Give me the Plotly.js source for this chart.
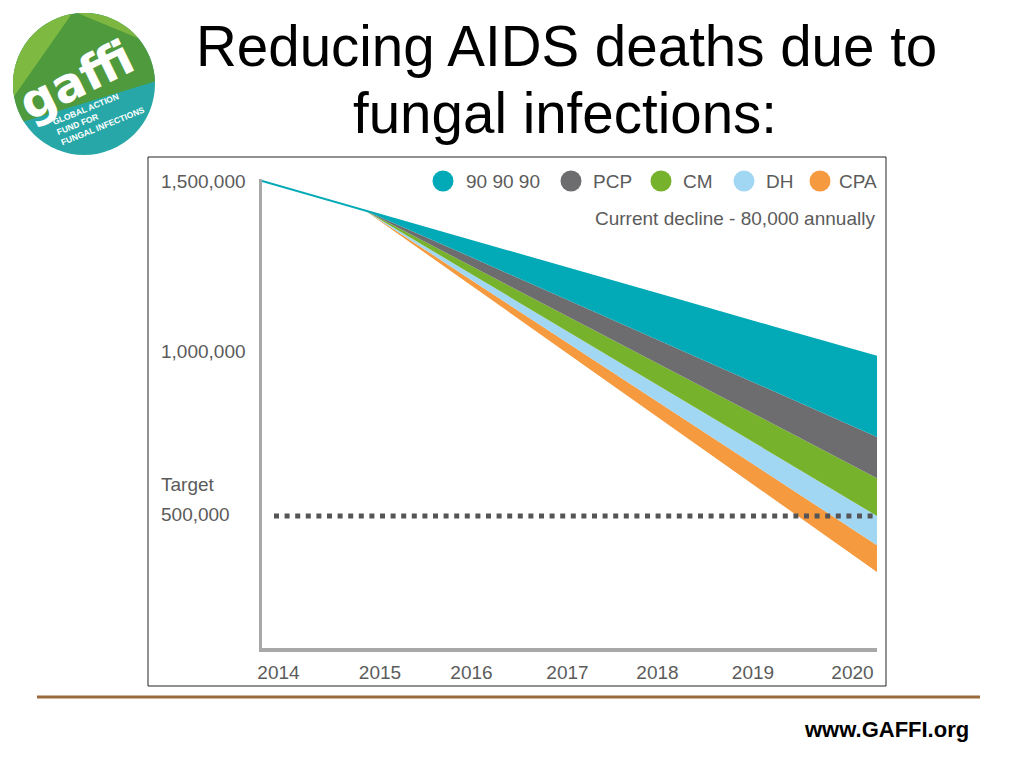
<!DOCTYPE html>
<html>
<head>
<meta charset="utf-8">
<script src="https://cdn.plot.ly/plotly-3.0.1.min.js"></script>
<style>
  html, body { margin: 0; padding: 0; background: #ffffff; }
  #chart { width: 1024px; height: 768px; }
</style>
</head>
<body>
<div id="chart"></div>
<script>
// ---- Data ----
const years = [2014, 2015, 2016, 2017, 2018, 2019, 2020];
// upper boundary of each band (deaths per year)
const ninetyTop = [1500000, 1413000, 1325000, 1237000, 1150000, 1062000, 975000]; // 90 90 90 (current decline line)
const pcpTop    = [1500000, 1413000, 1278000, 1142000, 1007000, 871000, 736000];
const cmTop     = [1500000, 1413000, 1253000, 1093000, 933000, 773000, 613000];
const dhTop     = [1500000, 1413000, 1230000, 1048000, 865000, 683000, 500000];
const cpaTop    = [1500000, 1413000, 1213000, 1013000, 813000, 613000, 413000];
const cpaBottom = [1500000, 1413000, 1197000, 981000, 765000, 549000, 333000];
const target = 500000;
const seriesNames = ['90 90 90', 'PCP', 'CM', 'DH', 'CPA'];
const seriesColors = ['#02a9b7', '#6d6d6f', '#76b22b', '#a2d7f4', '#f59a3e'];
const yTickVals = [1500000, 1000000, 500000];
const yTickText = ['1,500,000', '1,000,000', '500,000'];
const xTickText = ['2014', '2015', '2016', '2017', '2018', '2019', '2020'];

// ---- Layout geometry (pixels) ----
const L = 262, R = 147, T = 179, B = 120;
const PW = 1024 - L - R, PH = 768 - T - B;
const xp = p => (p - L) / PW;
const yp = p => (768 - B - p) / PH;
const yearAt = p => 2014 + (p - L) / PW * 6;

const txt = '#5b5b5b';
const chartFont = 'Liberation Sans, Arial, Helvetica, sans-serif';

function band(yv, name, color, fill) {
  return {
    type: 'scatter', mode: 'lines', x: years, y: yv, name: name,
    line: { width: 0, color: color }, fill: fill ? 'tonexty' : 'none',
    fillcolor: color, hoverinfo: 'skip', showlegend: false
  };
}
const traces = [
  band(cpaBottom, 'CPA base', seriesColors[4], false),
  band(cpaTop, 'CPA', seriesColors[4], true),
  band(dhTop, 'DH', seriesColors[3], true),
  band(cmTop, 'CM', seriesColors[2], true),
  band(pcpTop, 'PCP', seriesColors[1], true),
  Object.assign(band(ninetyTop, '90 90 90', seriesColors[0], true), { line: { width: 2, color: seriesColors[0] } })
];

// ---- Shapes ----
const shapes = [];
// chart frame
shapes.push({ type: 'rect', xref: 'paper', yref: 'paper', x0: xp(148), x1: xp(886), y0: yp(686), y1: yp(157),
  line: { color: '#222', width: 1 }, fillcolor: 'rgba(0,0,0,0)', layer: 'below' });
// target dotted line
shapes.push({ type: 'line', xref: 'paper', yref: 'y', x0: xp(274), x1: xp(878), y0: target, y1: target,
  line: { color: '#555557', width: 5, dash: '5px,5.6px' } });
// legend circles
const legCircleX = [443, 571, 661, 744, 820];
const legTextX = [465, 592, 682, 765, 838];
seriesNames.forEach((n, i) => {
  shapes.push({ type: 'circle', xref: 'paper', yref: 'paper', xsizemode: 'pixel', ysizemode: 'pixel',
    xanchor: xp(legCircleX[i]), yanchor: yp(181), x0: -10.5, x1: 10.5, y0: -10.5, y1: 10.5,
    fillcolor: seriesColors[i], line: { width: 0 } });
});
// bottom brown rule
shapes.push({ type: 'line', xref: 'paper', yref: 'paper', x0: xp(37), x1: xp(980), y0: yp(697), y1: yp(697),
  line: { color: '#9a6a3c', width: 3 } });
// logo
const cx = 84, cy = 84, r = 71;
shapes.push({ type: 'circle', xref: 'paper', yref: 'paper', x0: xp(cx - r), x1: xp(cx + r), y0: yp(cy + r), y1: yp(cy - r),
  fillcolor: '#27a7a7', line: { width: 0 } });
function arcPath(a0, a1, steps) {
  let d = '';
  for (let k = 0; k <= steps; k++) {
    const a = (a0 + (a1 - a0) * k / steps) * Math.PI / 180;
    const px = cx + r * Math.cos(a), py = cy - r * Math.sin(a);
    d += (k === 0 ? 'M ' : ' L ') + xp(px).toFixed(5) + ',' + yp(py).toFixed(5);
  }
  return d + ' Z';
}
shapes.push({ type: 'path', xref: 'paper', yref: 'paper', path: arcPath(2, 212, 70), fillcolor: '#4f9a3c', line: { width: 0 } });
shapes.push({ type: 'path', xref: 'paper', yref: 'paper', path: arcPath(100, 190, 30), fillcolor: '#86c043', line: { width: 0 }, opacity: 0.85 });
shapes.push({ type: 'path', xref: 'paper', yref: 'paper', path: arcPath(40, 95, 20), fillcolor: '#9ccb45', line: { width: 0 }, opacity: 0.6 });

// ---- Annotations ----
const ann = [];
const A = (o) => ann.push(Object.assign({ showarrow: false, font: { family: chartFont, size: 19, color: txt } }, o));
// title
A({ xref: 'paper', yref: 'paper', x: xp(566), y: yp(46), text: 'Reducing AIDS deaths due to', xanchor: 'center', yanchor: 'middle',
  font: { family: chartFont, size: 56.5, color: '#000' } });
A({ xref: 'paper', yref: 'paper', x: xp(565), y: yp(113), text: 'fungal infections:', xanchor: 'center', yanchor: 'middle',
  font: { family: chartFont, size: 56.5, color: '#000' } });
// y labels
const yShift = [0, -2.5, 2];
yTickVals.forEach((v, i) => A({ xref: 'paper', yref: 'y', x: xp(159), y: v, yshift: yShift[i], text: yTickText[i], xanchor: 'left', yanchor: 'middle' }));
A({ xref: 'paper', yref: 'y', x: xp(159), y: target, yshift: 32, text: 'Target', xanchor: 'left', yanchor: 'middle' });
// legend labels
seriesNames.forEach((n, i) => A({ xref: 'paper', yref: 'paper', x: xp(legTextX[i] - 1), y: yp(181), text: n, xanchor: 'left', yanchor: 'middle' }));
A({ xref: 'paper', yref: 'paper', x: xp(877), y: yp(218), text: 'Current decline - 80,000 annually', xanchor: 'right', yanchor: 'middle' });
// footer
A({ xref: 'paper', yref: 'paper', x: xp(971), y: yp(729), text: '<b>www.GAFFI.org</b>', xanchor: 'right', yanchor: 'middle',
  font: { family: chartFont, size: 22, color: '#000' } });
// logo text
A({ xref: 'paper', yref: 'paper', x: xp(76), y: yp(80), text: '<b>gaffi</b>', textangle: -26, xanchor: 'center', yanchor: 'middle',
  font: { family: 'DejaVu Sans, sans-serif', size: 48, color: '#ffffff' } });
A({ xref: 'paper', yref: 'paper', x: xp(98), y: yp(116), text: '<b>GLOBAL ACTION<br>FUND FOR<br>FUNGAL INFECTIONS</b>', textangle: -22,
  xanchor: 'center', yanchor: 'middle', align: 'left',
  font: { family: chartFont, size: 8.5, color: '#ffffff' } });

// x tick positions follow the label positions in the reference
const xTickPx = [278.5, 380, 471.5, 567.5, 657.5, 753, 852.5];

const layout = {
  width: 1024, height: 768,
  margin: { l: L, r: R, t: T, b: B, pad: 0 },
  paper_bgcolor: '#ffffff', plot_bgcolor: '#ffffff',
  showlegend: false,
  xaxis: {
    range: [2014, 2020], showgrid: false, zeroline: false,
    showline: true, linecolor: '#a8a8a8', linewidth: 3.5,
    tickvals: xTickPx.map(yearAt), ticktext: xTickText,
    ticks: 'outside', ticklen: 5, tickcolor: 'rgba(0,0,0,0)',
    tickfont: { family: chartFont, size: 19, color: txt }
  },
  yaxis: {
    range: [1500000 - (768 - B - 181) / 335 * 1e6, 1500000 + (181 - T) / 335 * 1e6],
    showgrid: false, zeroline: false, showticklabels: false, ticks: '',
    showline: true, linecolor: '#a8a8a8', linewidth: 3.5
  },
  shapes: shapes,
  annotations: ann
};

Plotly.newPlot('chart', traces, layout, { staticPlot: true, displayModeBar: false });
</script>
</body>
</html>
